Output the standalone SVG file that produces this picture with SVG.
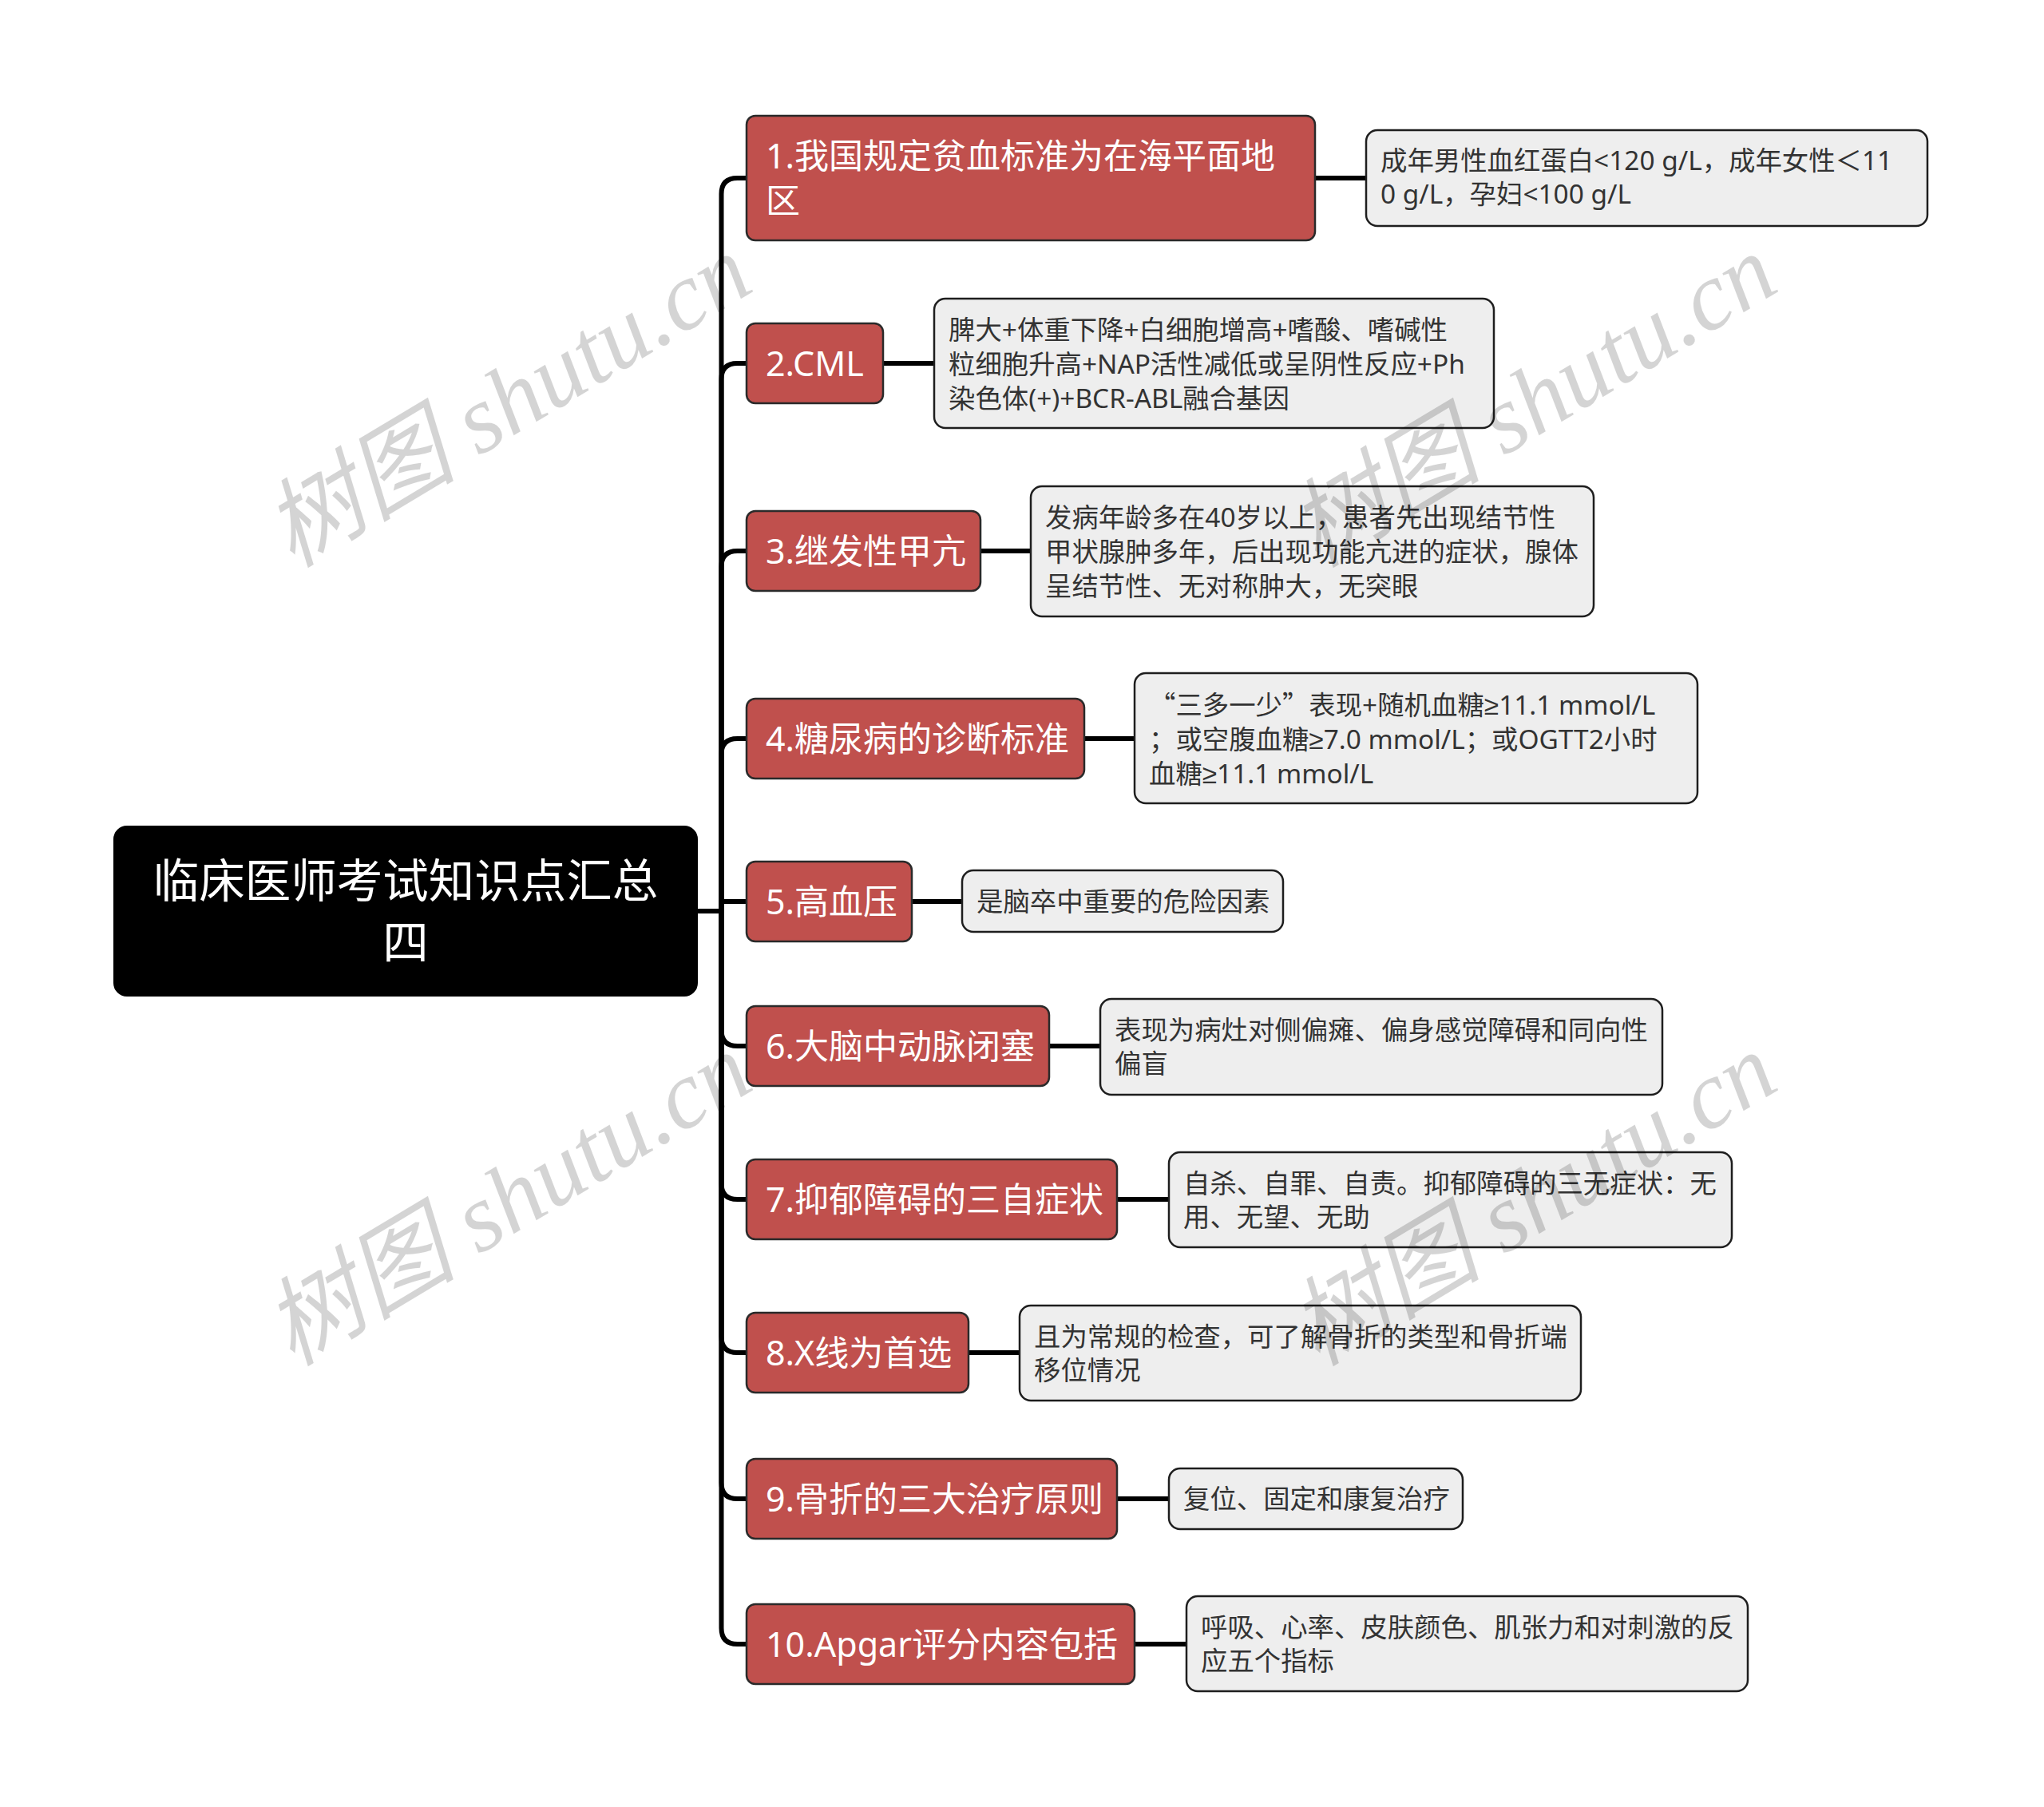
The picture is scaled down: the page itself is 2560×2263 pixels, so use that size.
<svg xmlns="http://www.w3.org/2000/svg" width="2560" height="2263" viewBox="0 0 2560 2263">
<style>
.bg{fill:#ffffff}
.root rect{fill:#000000;stroke:#000000;stroke-width:2}
.root text{fill:#ffffff;font-family:"Noto Sans","Noto Sans CJK SC",sans-serif;font-size:57.5px;text-anchor:middle}
.topic rect{fill:#c0504d;stroke:#2a2a2a;stroke-width:2.5}
.topic text{fill:#ffffff;font-family:"Noto Sans","Noto Sans CJK SC",sans-serif;font-size:43px}
.leaf rect{fill:#eeeeee;stroke:#1e1e1e;stroke-width:2.5}
.leaf text{fill:#333333;font-family:"Noto Sans","Noto Sans CJK SC",sans-serif;font-size:33.4px}
.cjk{font-family:"Noto Sans CJK SC",sans-serif}
.ge{font-family:"Liberation Sans",sans-serif}
#connectors path{fill:none;stroke:#000000;stroke-width:6;stroke-linecap:round;stroke-linejoin:round}
.wm{fill:#000000;fill-opacity:0.17;font-family:"Liberation Serif","Noto Sans CJK SC",serif;font-style:italic;font-size:121px}
</style>
<rect class="bg" x="0" y="0" width="2560" height="2263"/>

<g id="connectors">
  <path d="M873,1141 H903.5 V243 Q903.5,223 923.5,223 H935"/>
  <path d="M873,1141 H903.5 V475 Q903.5,455 923.5,455 H935"/>
  <path d="M873,1141 H903.5 V710 Q903.5,690 923.5,690 H935"/>
  <path d="M873,1141 H903.5 V945 Q903.5,925 923.5,925 H935"/>
  <path d="M873,1141 H903.5 V1129 H935"/>
  <path d="M873,1141 H903.5 V1290 Q903.5,1310 923.5,1310 H935"/>
  <path d="M873,1141 H903.5 V1482 Q903.5,1502 923.5,1502 H935"/>
  <path d="M873,1141 H903.5 V1674 Q903.5,1694 923.5,1694 H935"/>
  <path d="M873,1141 H903.5 V1857 Q903.5,1877 923.5,1877 H935"/>
  <path d="M873,1141 H903.5 V2039 Q903.5,2059 923.5,2059 H935"/>
  <path d="M1647,223 H1711"/>
  <path d="M1106,455 H1170"/>
  <path d="M1228,690 H1291"/>
  <path d="M1358,925 H1421"/>
  <path d="M1142,1129 H1205"/>
  <path d="M1314,1310 H1378"/>
  <path d="M1399,1502 H1464"/>
  <path d="M1213,1694 H1277"/>
  <path d="M1399,1877 H1464"/>
  <path d="M1421,2059 H1486"/>
</g>

<g id="root" class="root">
  <rect x="143" y="1035" width="730" height="212" rx="16"/>
  <text x="508" y="1124">临床医师考试知识点汇总</text>
  <text x="508" y="1201">四</text>
</g>

<g id="n1" class="topic">
  <rect x="935" y="145" width="712" height="156" rx="11"/>
  <text x="959" y="211">1.我国规定贫血标准为在海平面地</text>
  <text x="959" y="267">区</text>
</g>
<g id="n2" class="topic">
  <rect x="935" y="405" width="171" height="100" rx="11"/>
  <text x="959" y="471">2.CML</text>
</g>
<g id="n3" class="topic">
  <rect x="935" y="640" width="293" height="100" rx="11"/>
  <text x="959" y="706">3.继发性甲亢</text>
</g>
<g id="n4" class="topic">
  <rect x="935" y="875" width="423" height="100" rx="11"/>
  <text x="959" y="941">4.糖尿病的诊断标准</text>
</g>
<g id="n5" class="topic">
  <rect x="935" y="1079" width="207" height="100" rx="11"/>
  <text x="959" y="1145">5.高血压</text>
</g>
<g id="n6" class="topic">
  <rect x="935" y="1260" width="379" height="100" rx="11"/>
  <text x="959" y="1326">6.大脑中动脉闭塞</text>
</g>
<g id="n7" class="topic">
  <rect x="935" y="1452" width="464" height="100" rx="11"/>
  <text x="959" y="1518">7.抑郁障碍的三自症状</text>
</g>
<g id="n8" class="topic">
  <rect x="935" y="1644" width="278" height="100" rx="11"/>
  <text x="959" y="1710">8.X线为首选</text>
</g>
<g id="n9" class="topic">
  <rect x="935" y="1827" width="464" height="100" rx="11"/>
  <text x="959" y="1893">9.骨折的三大治疗原则</text>
</g>
<g id="n10" class="topic">
  <rect x="935" y="2009" width="486" height="100" rx="11"/>
  <text x="959" y="2075">10.Apgar评分内容包括</text>
</g>

<g id="l1" class="leaf">
  <rect x="1711" y="163" width="703" height="120" rx="14"/>
  <text x="1729" y="213">成年男性血红蛋白&lt;120 g/L，成年女性＜11</text>
  <text x="1729" y="255">0 g/L，孕妇&lt;100 g/L</text>
</g>
<g id="l2" class="leaf">
  <rect x="1170" y="374" width="701" height="162" rx="14"/>
  <text x="1188" y="425">脾大+体重下降+白细胞增高+嗜酸、嗜碱性</text>
  <text x="1188" y="468">粒细胞升高+NAP活性减低或呈阴性反应+Ph</text>
  <text x="1188" y="511">染色体(+)+BCR-ABL融合基因</text>
</g>
<g id="l3" class="leaf">
  <rect x="1291" y="609" width="705" height="163" rx="14"/>
  <text x="1309" y="660">发病年龄多在40岁以上，患者先出现结节性</text>
  <text x="1309" y="703">甲状腺肿多年，后出现功能亢进的症状，腺体</text>
  <text x="1309" y="746">呈结节性、无对称肿大，无突眼</text>
</g>
<g id="l4" class="leaf">
  <rect x="1421" y="843" width="705" height="163" rx="14"/>
  <text x="1439" y="895"><tspan class="cjk">“</tspan>三多一少<tspan class="cjk">”</tspan>表现+随机血糖<tspan class="ge">≥</tspan>11.1 mmol/L</text>
  <text x="1439" y="938">；或空腹血糖<tspan class="ge">≥</tspan>7.0 mmol/L；或OGTT2小时</text>
  <text x="1439" y="981">血糖<tspan class="ge">≥</tspan>11.1 mmol/L</text>
</g>
<g id="l5" class="leaf">
  <rect x="1205" y="1090" width="402" height="77" rx="14"/>
  <text x="1223" y="1141">是脑卒中重要的危险因素</text>
</g>
<g id="l6" class="leaf">
  <rect x="1378" y="1251" width="704" height="120" rx="14"/>
  <text x="1396" y="1302">表现为病灶对侧偏瘫、偏身感觉障碍和同向性</text>
  <text x="1396" y="1344">偏盲</text>
</g>
<g id="l7" class="leaf">
  <rect x="1464" y="1443" width="705" height="119" rx="14"/>
  <text x="1482" y="1494">自杀、自罪、自责。抑郁障碍的三无症状：无</text>
  <text x="1482" y="1536">用、无望、无助</text>
</g>
<g id="l8" class="leaf">
  <rect x="1277" y="1635" width="703" height="119" rx="14"/>
  <text x="1295" y="1686">且为常规的检查，可了解骨折的类型和骨折端</text>
  <text x="1295" y="1728">移位情况</text>
</g>
<g id="l9" class="leaf">
  <rect x="1464" y="1839" width="368" height="76" rx="14"/>
  <text x="1482" y="1889">复位、固定和康复治疗</text>
</g>
<g id="l10" class="leaf">
  <rect x="1486" y="1999" width="703" height="119" rx="14"/>
  <text x="1504" y="2050">呼吸、心率、皮肤颜色、肌张力和对刺激的反</text>
  <text x="1504" y="2092">应五个指标</text>
</g>

<g id="watermarks">
  <text class="wm" transform="translate(366,712) rotate(-31)">树图 shutu.cn</text>
  <text class="wm" transform="translate(1650,712) rotate(-31)">树图 shutu.cn</text>
  <text class="wm" transform="translate(366,1712) rotate(-31)">树图 shutu.cn</text>
  <text class="wm" transform="translate(1650,1712) rotate(-31)">树图 shutu.cn</text>
</g>
</svg>
